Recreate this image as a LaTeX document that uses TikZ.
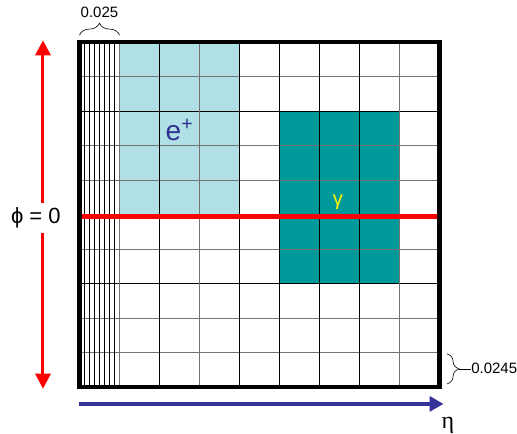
\documentclass[tikz,border=0pt]{standalone}
\usepackage{fontspec}
\setmainfont{Liberation Sans}
\newfontfamily\etafont{Liberation Serif}
\usetikzlibrary{arrows.meta,decorations.pathreplacing}
\definecolor{cellblue}{RGB}{176,224,230}
\definecolor{cellteal}{RGB}{0,153,153}
\definecolor{etablue}{RGB}{51,51,153}
\definecolor{posblue}{RGB}{46,49,146}
\tikzset{
  thinline/.style={line width=0.8pt,black!55},
  cellline/.style={line width=0.8pt,black},
  stripline/.style={line width=0.7pt,black},
  frameline/.style={line width=4.5pt,line join=miter},
  phiarrow/.style={red,line width=3pt,-{Triangle[width=15pt,length=15pt]}},
  etaarrow/.style={etablue,line width=4pt,-{Triangle[width=15pt,length=14pt]}},
  sizebrace/.style={decorate,decoration={brace,amplitude=12pt},line width=0.6pt},
}
\begin{document}
\begin{tikzpicture}[x=40pt,y=-34.5pt]
        \useasboundingbox (-1.9875,-1.2174) rectangle (10.9375,11.362);
        \fill[cellblue] (1,0) rectangle (4,5);
        \fill[cellteal] (5,2) rectangle (8,7);

        \draw[thinline] (0,1) -- (9,1);
        \draw[cellline] (0,2) -- (9,2);
        \draw[thinline] (0,3) -- (9,3);
        \draw[thinline] (0,4) -- (9,4);
        \draw[thinline] (0,6) -- (9,6);
        \draw[cellline] (0,7) -- (9,7);
        \draw[thinline] (0,8) -- (9,8);
        \draw[thinline] (0,9) -- (9,9);

        \draw[thinline] (1,0) -- (1,10);
        \draw[cellline] (2,0) -- (2,10);
        \draw[thinline] (3,0) -- (3,10);
        \draw[cellline] (4,0) -- (4,10);
        \draw[cellline] (5,0) -- (5,10);
        \draw[cellline] (6,0) -- (6,10);
        \draw[cellline] (7,0) -- (7,10);
        \draw[thinline] (8,0) -- (8,10);

        \draw[stripline] (0.125,0) -- (0.125,10);
        \draw[stripline] (0.25,0) -- (0.25,10);
        \draw[stripline] (0.375,0) -- (0.375,10);
        \draw[stripline] (0.5,0) -- (0.5,10);
        \draw[stripline] (0.625,0) -- (0.625,10);
        \draw[stripline] (0.75,0) -- (0.75,10);
        \draw[stripline] (0.875,0) -- (0.875,10);

        \draw[red,line width=5pt] (0,5.07) -- (9,5.07);
        \draw[frameline] (0,0) rectangle (9,10);

        \node[posblue,font=\fontsize{28}{28}\selectfont] (positron) at (2.5,2.55) {e\textsuperscript{+}};
        \node[yellow,font=\fontsize{20}{20}\selectfont] (photon) at (6.46,4.64) {γ};

        \node[inner sep=5pt,font=\fontsize{22}{22}\selectfont] (phi) at (-1.09,5.1) {ϕ = 0};
        \coordinate (phitop) at (-0.9125,-0.05);
        \coordinate (phibot) at (-0.9125,10.05);
        \draw[phiarrow] (phi.north -| phitop) -- (phitop);
        \draw[phiarrow] (phi.south -| phitop) -- (phibot);

        \coordinate (etastart) at (0,10.49);
        \coordinate (etaend) at (9.1,10.49);
        \draw[etaarrow] (etastart) -- (etaend);
        \node[font=\etafont\fontsize{24}{24}\selectfont] (eta) at (9.21,11.12) {η};

        \coordinate (topleft) at (0,-0.2);
        \coordinate (topright) at (1,-0.2);
        \draw[sizebrace] (topleft) -- (topright);
        \node[font=\fontsize{15}{15}\selectfont] (etasize) at (0.5,-0.87) {0.025};

        \coordinate (rowtop) at (9.19,9.04);
        \coordinate (rowbot) at (9.19,9.91);
        \coordinate (rowtip) at (9.49,9.475);
        \draw[sizebrace] (rowtop) -- (rowbot);
        \node[anchor=west,inner sep=0pt,font=\fontsize{15}{15}\selectfont] (phisize) at (9.79,9.45) {0.0245};
        \draw[line width=0.6pt] (rowtip) -- (phisize.west |- rowtip);
\end{tikzpicture}
\end{document}
